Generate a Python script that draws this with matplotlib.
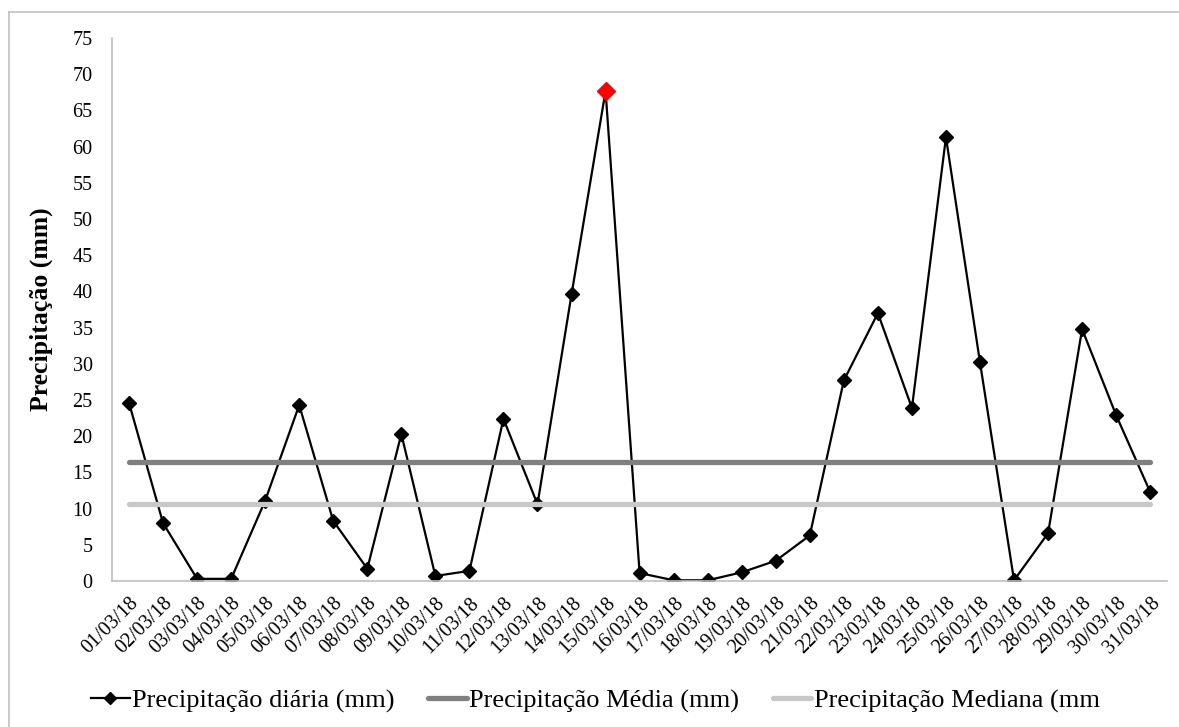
import numpy as np
import matplotlib.pyplot as plt
from matplotlib.lines import Line2D

# Precipitação diária de março/2018
dias = ['01/03/18', '02/03/18', '03/03/18', '04/03/18', '05/03/18', '06/03/18',
        '07/03/18', '08/03/18', '09/03/18', '10/03/18', '11/03/18', '12/03/18',
        '13/03/18', '14/03/18', '15/03/18', '16/03/18', '17/03/18', '18/03/18',
        '19/03/18', '20/03/18', '21/03/18', '22/03/18', '23/03/18', '24/03/18',
        '25/03/18', '26/03/18', '27/03/18', '28/03/18', '29/03/18', '30/03/18',
        '31/03/18']
precip = [24.6, 8.0, 0.3, 0.3, 11.1, 24.3, 8.3, 1.7, 20.3, 0.7, 1.4, 22.4,
          10.6, 39.6, 67.7, 1.1, 0.1, 0.1, 1.2, 2.8, 6.3, 27.7, 37.0, 23.9,
          61.3, 30.2, 0.1, 6.6, 34.8, 22.9, 12.3]

media = np.mean(precip)
mediana = np.median(precip)
i_max = int(np.argmax(precip))

plt.rcParams['font.family'] = ['Liberation Serif', 'DejaVu Serif']

fig = plt.figure(figsize=(11.79, 7.27), dpi=100)
ax = fig.add_axes([0.095, 0.2008, 0.895, 0.7469])

x = np.arange(len(dias))
ax.plot(x, precip, color='black', lw=1.6, marker='D', markersize=7,
        markerfacecolor='black', markeredgecolor='black', zorder=2)
ax.plot(x[i_max], precip[i_max], marker='D', markersize=9, color='red',
        markeredgecolor='red', zorder=5)
ax.plot([x[0], x[-1]], [media, media], color='#808080', lw=3.8,
        solid_capstyle='round', zorder=3)
ax.plot([x[0], x[-1]], [mediana, mediana], color='#c8c8c8', lw=3.8,
        solid_capstyle='round', zorder=4)

ax.set_xlim(-0.5, len(dias) - 0.5)
ax.set_ylim(0, 75)
ax.set_yticks(np.arange(0, 76, 5))
ax.set_xticks(x)
ax.set_xticklabels(dias, rotation=45, ha='right', rotation_mode='anchor')
ax.tick_params(axis='both', length=0, labelsize=14.5)
ax.tick_params(axis='y', pad=14)
ax.tick_params(axis='x', pad=9)

for lado in ['top', 'right']:
    ax.spines[lado].set_visible(False)
for lado in ['left', 'bottom']:
    ax.spines[lado].set_color('#bfbfbf')
    ax.spines[lado].set_linewidth(1.2)

ax.set_ylabel('Precipitação (mm)', fontsize=18.5, fontweight='bold', labelpad=14)

# moldura da área do gráfico
fig.add_artist(Line2D([0.0076, 1.0], [0.9835, 0.9835], color='#c0c0c0', lw=1.2))
fig.add_artist(Line2D([0.0076, 0.0076], [0.0, 0.9835], color='#c0c0c0', lw=1.2))

handles = [
    Line2D([], [], color='black', lw=1.6, marker='D', markersize=6),
    Line2D([], [], color='#808080', lw=3.8, solid_capstyle='round'),
    Line2D([], [], color='#c8c8c8', lw=3.8, solid_capstyle='round'),
]
labels = ['Precipitação diária (mm)', 'Precipitação Média (mm)',
          'Precipitação Mediana (mm']
fig.legend(handles, labels, loc='center', bbox_to_anchor=(0.505, 0.036), ncol=3,
           frameon=False, fontsize=19, handlelength=1.45, handletextpad=0.08,
           columnspacing=1.3)

fig.savefig('out.png', dpi=100)
